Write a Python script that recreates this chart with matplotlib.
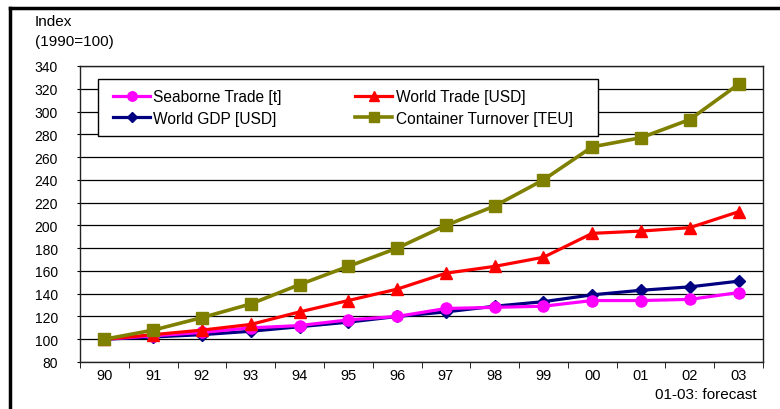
import matplotlib.pyplot as plt
import numpy as np
from matplotlib.lines import Line2D
from matplotlib.patches import Rectangle

plt.rcParams['font.family'] = ['Liberation Sans', 'DejaVu Sans']

years = ["90", "91", "92", "93", "94", "95", "96", "97", "98", "99", "00", "01", "02", "03"]
seaborne = [100, 103, 106, 110, 112, 117, 120, 127, 128, 129, 134, 134, 135, 141]
world_trade = [100, 104, 108, 113, 124, 134, 144, 158, 164, 172, 193, 195, 198, 212]
world_gdp = [100, 102, 104, 107, 111, 115, 120, 124, 129, 133, 139, 143, 146, 151]
container = [100, 108, 119, 131, 148, 164, 180, 200, 217, 240, 269, 277, 293, 324]

x = np.arange(len(years))

W, H = 780, 410
fig = plt.figure(figsize=(7.8, 4.1), dpi=100)
ax = fig.add_axes([80 / W, 1 - 363 / H, 683 / W, 296 / H])

# outer frame (left + top only visible)
fig.add_artist(Line2D([10 / W, 10 / W], [0, 1 - 9 / H], color="black", lw=2.5))
fig.add_artist(Line2D([10 / W, 1], [1 - 9 / H, 1 - 9 / H], color="black", lw=2.5))

ax.plot(x, world_gdp, color="#000080", lw=2.3, marker="D", ms=6, label="World GDP [USD]", zorder=3)
ax.plot(x, seaborne, color="#FF00FF", lw=2.3, marker="o", ms=8, label="Seaborne Trade [t]", zorder=4)
ax.plot(x, world_trade, color="#FF0000", lw=2.3, marker="^", ms=9, label="World Trade [USD]", zorder=5)
ax.plot(x, container, color="#808000", lw=2.6, marker="s", ms=9, label="Container Turnover [TEU]", zorder=6)

ax.set_xlim(-0.5, len(years) - 0.5)
ax.set_ylim(80, 340)
ax.set_yticks(range(80, 341, 20))
ax.yaxis.grid(True, color="black", lw=0.9)
ax.set_axisbelow(True)

ax.set_xticks(x)
ax.set_xticklabels(years)
ax.set_xticks(np.arange(-0.5, len(years)), minor=True)
ax.tick_params(axis="x", which="major", length=0, pad=4, labelsize=10.5)
ax.tick_params(axis="x", which="minor", length=4, direction="out", color="black")
ax.tick_params(axis="y", length=2.5, direction="out", labelsize=10, pad=13.5)

for s in ax.spines.values():
    s.set_color("#222222")
    s.set_linewidth(1)

# legend box drawn separately so its size matches the original
ax_w, ax_h = 683, 296
box = Rectangle(((98 - 80) / ax_w, 1 - (137 - 67) / ax_h), 500 / ax_w, 57 / ax_h,
                transform=ax.transAxes, facecolor="white", edgecolor="black", lw=1, zorder=9)
ax.add_patch(box)

handles, labels = ax.get_legend_handles_labels()
order = [1, 0, 2, 3]
leg = ax.legend([handles[i] for i in order], [labels[i] for i in order],
                ncol=2, loc="upper left",
                bbox_to_anchor=((113 - 80) / ax_w, 1 - (90 - 67) / ax_h),
                frameon=False, fontsize=11.2, handlelength=2.4, handletextpad=0.2,
                borderaxespad=0, borderpad=0, labelspacing=0.42, columnspacing=4.7,
                markerscale=0.85)
leg.set_zorder(10)

fig.text(35 / W, 1 - 22 / H, "Index", fontsize=11, va="center", ha="left")
fig.text(35 / W, 1 - 42 / H, "(1990=100)", fontsize=11, va="center", ha="left")
fig.text(757 / W, 1 - 395 / H, "01-03: forecast", fontsize=11, va="center", ha="right")

fig.savefig("out.png", dpi=100)
